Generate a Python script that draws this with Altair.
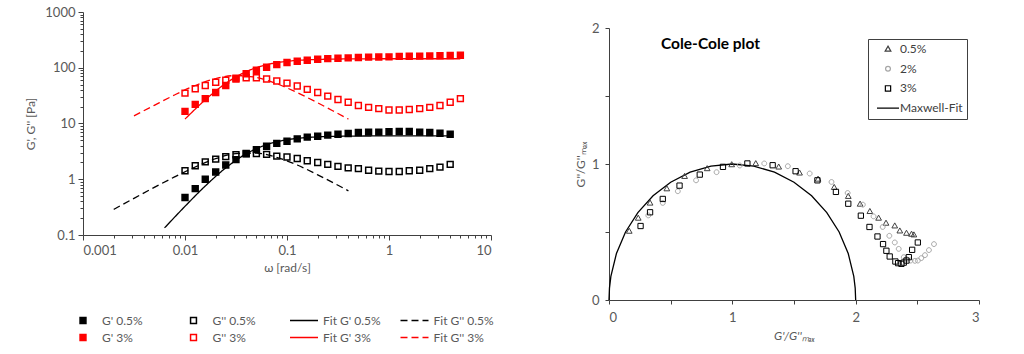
import altair as alt
import pandas as pd

# ---------------- left panel: frequency sweep ----------------
omega = [0.01, 0.0126, 0.0158, 0.02, 0.0251, 0.0316, 0.0398, 0.0501, 0.0631, 0.0794,
         0.1, 0.126, 0.158, 0.2, 0.251, 0.316, 0.398, 0.501, 0.631, 0.794,
         1.0, 1.26, 1.58, 2.0, 2.51, 3.16, 3.98, 5.01]
gp_05 = [0.47, 0.68, 1.0, 1.35, 1.8, 2.25, 2.85, 3.4, 3.9, 4.4, 4.8, 5.3, 5.7, 5.9, 6.2,
         6.4, 6.6, 6.9, 7.0, 7.0, 7.1, 7.2, 7.2, 7.0, 6.9, 6.7, 6.4]
gpp_05 = [1.42, 1.75, 2.05, 2.3, 2.55, 2.75, 2.9, 2.9, 2.8, 2.6, 2.5, 2.35, 2.15, 2.0, 1.85,
          1.7, 1.6, 1.55, 1.45, 1.4, 1.38, 1.38, 1.42, 1.45, 1.55, 1.65, 1.85]
gp_3 = [16.5, 22, 28, 36, 48, 63, 78, 90, 102, 114, 124, 131, 136, 142, 146, 148, 150, 153,
        155, 156, 157, 160, 161, 162, 163, 164, 166, 168]
gpp_3 = [35, 42, 48, 55, 60, 65, 66, 66, 63, 58, 53, 47, 41, 36, 31, 27, 24, 21, 19.5, 18.5,
         17.5, 17.5, 17.8, 18.5, 19.5, 21, 24, 28]

fit_w_gp_05 = [0.0063, 0.01, 0.0158, 0.0251, 0.0398, 0.063, 0.1, 0.158, 0.251, 0.398, 0.63, 1.0, 1.58, 2.51, 4.0]
fit_v_gp_05 = [0.134, 0.327, 0.757, 1.60, 2.86, 4.17, 5.11, 5.61, 5.84, 5.93, 5.97, 5.99, 6.0, 6.0, 6.0]
fit_w_gpp_05 = [0.002, 0.00316, 0.005, 0.0079, 0.0126, 0.02, 0.0316, 0.05, 0.079, 0.126, 0.2, 0.316, 0.4]
fit_v_gpp_05 = [0.288, 0.455, 0.714, 1.10, 1.66, 2.34, 2.89, 2.95, 2.47, 1.80, 1.20, 0.78, 0.62]
fit_w_gp_3 = [0.01, 0.0158, 0.0251, 0.0398, 0.063, 0.1, 0.158, 0.251, 0.398, 0.63, 1.0, 1.58, 2.51, 5.0]
fit_v_gp_3 = [12.0, 26.6, 52.5, 85.2, 113.3, 130.5, 138.8, 142.5, 144, 144.6, 145, 145, 145, 145]
fit_w_gpp_3 = [0.00316, 0.005, 0.0079, 0.0126, 0.02, 0.0316, 0.05, 0.079, 0.126, 0.2, 0.316, 0.4]
fit_v_gpp_3 = [13.7, 21.2, 32.5, 48.0, 64.0, 72.4, 66.9, 51.9, 35.8, 23.5, 15.1, 12.0]

series = ["G' 0.5%", "G'' 0.5%", "Fit G' 0.5%", "Fit G'' 0.5%",
          "G' 3%", "G'' 3%", "Fit G' 3%", "Fit G'' 3%"]

# ---------------- right panel: Cole-Cole ----------------
tri_x = [0.164, 0.237, 0.333, 0.469, 0.613, 0.796, 0.995, 1.19, 1.376, 1.545, 1.695, 1.826, 1.94,
         2.036, 2.115, 2.186, 2.246, 2.317, 2.358, 2.412, 2.453, 2.472]
tri_y = [0.507, 0.603, 0.714, 0.819, 0.91, 0.967, 0.996, 1.004, 0.979, 0.935, 0.89, 0.829, 0.763,
         0.706, 0.652, 0.603, 0.566, 0.546, 0.509, 0.492, 0.485, 0.48]
cir_x = [0.319, 0.436, 0.558, 0.706, 0.872, 1.06, 1.259, 1.45, 1.627, 1.804, 1.935, 2.058, 2.145,
         2.219, 2.273, 2.317, 2.349, 2.39, 2.412, 2.445, 2.48, 2.504, 2.532, 2.562, 2.594, 2.635]
cir_y = [0.622, 0.714, 0.80, 0.88, 0.94, 0.989, 1.004, 0.984, 0.93, 0.868, 0.787, 0.701, 0.615,
         0.537, 0.472, 0.423, 0.376, 0.315, 0.30, 0.29, 0.288, 0.29, 0.308, 0.33, 0.367, 0.411]
sq_x = [0.256, 0.333, 0.436, 0.572, 0.736, 0.924, 1.122, 1.327, 1.513, 1.69, 1.84, 1.94, 2.042,
        2.112, 2.177, 2.222, 2.249, 2.276, 2.322, 2.344, 2.371, 2.39, 2.412, 2.431, 2.458, 2.504]
sq_y = [0.544, 0.645, 0.743, 0.841, 0.922, 0.979, 1.004, 0.991, 0.947, 0.88, 0.795, 0.708, 0.62,
        0.537, 0.467, 0.411, 0.362, 0.32, 0.283, 0.271, 0.266, 0.275, 0.29, 0.315, 0.369, 0.423]
maxwell_x = [0.0, 0.0038, 0.0152, 0.0603, 0.134, 0.234, 0.3572, 0.5, 0.658, 0.8264, 1.0,
             1.1736, 1.342, 1.5, 1.6428, 1.766, 1.866, 1.9397, 1.9848, 1.9962, 2.0]
maxwell_y = [0.0, 0.0872, 0.1736, 0.342, 0.5, 0.6428, 0.766, 0.866, 0.9397, 0.9848, 1.0,
             0.9848, 0.9397, 0.866, 0.766, 0.6428, 0.5, 0.342, 0.1736, 0.0872, 0.0]
cc_labels = ["0.5%", "2%", "3%", "Maxwell-Fit"]

# ---------------- styling ----------------
FONT = "Lato"
GRAY = "#595959"
AX = "#404040"
SQ = "M-0.21,-0.21H0.21V0.21H-0.21Z"
LN = "M-1,0H1"

# ---------------- build tables ----------------
rows = []
for name, vals in [(series[0], gp_05), (series[1], gpp_05), (series[4], gp_3), (series[5], gpp_3)]:
    for w, v in zip(omega, vals):
        rows.append({"w": w, "v": v, "s": name})
df_pts = pd.DataFrame(rows)

rows = []
for name, ws, vs in [(series[2], fit_w_gp_05, fit_v_gp_05), (series[3], fit_w_gpp_05, fit_v_gpp_05),
                     (series[6], fit_w_gp_3, fit_v_gp_3), (series[7], fit_w_gpp_3, fit_v_gpp_3)]:
    for w, v in zip(ws, vs):
        rows.append({"w": w, "v": v, "s": name})
df_fit = pd.DataFrame(rows)

rows = []
for name, xs, ys in [("0.5%", tri_x, tri_y), ("2%", cir_x, cir_y), ("3%", sq_x, sq_y)]:
    for a, b in zip(xs, ys):
        rows.append({"gx": a, "gy": b, "lab": name})
df_cc = pd.DataFrame(rows)
df_mx = pd.DataFrame({"gx": maxwell_x, "gy": maxwell_y, "lab": "Maxwell-Fit",
                      "o": list(range(len(maxwell_x)))})

# ---------------- left chart ----------------
dec = "abs(log(datum.value)/LN10 - round(log(datum.value)/LN10)) < 0.001"
xticks = [m * 10.0 ** e for e in range(-3, 1) for m in range(1, 10)] + [10]
yticks = [m * 10.0 ** e for e in range(-1, 3) for m in range(1, 10)] + [1000]

leg_left = alt.Legend(title=None, orient="none", legendX=-15, legendY=302, columns=4,
                      direction="horizontal", gridAlign="all", columnPadding=15.5, rowPadding=4,
                      clipHeight=13, symbolSize=784, symbolStrokeWidth=1.5, labelOffset=4, padding=0,
                      labelFont=FONT, labelFontSize=12, labelColor=GRAY)

xl = alt.X("w:Q", scale=alt.Scale(type="log", domain=[0.001, 10], nice=False),
           axis=alt.Axis(values=xticks, labelExpr=f"({dec}) ? format(datum.value, '~g') : ''",
                         tickSize={"condition": {"test": dec, "value": 5}, "value": 3},
                         labelOverlap=False, labelPadding=4, titlePadding=5, title="ω [rad/s]"))
yl = alt.Y("v:Q", scale=alt.Scale(type="log", domain=[0.1, 1000], nice=False),
           axis=alt.Axis(values=yticks, labelExpr=f"({dec}) ? format(datum.value, '~g') : ''",
                         tickSize={"condition": {"test": dec, "value": 5}, "value": 3},
                         labelOverlap=False, labelPadding=3, titlePadding=7, title="G', G'' [Pa]"))

fill_enc = alt.Fill("s:N", scale=alt.Scale(domain=series, range=["black", "transparent", "transparent", "transparent", "#ff0000", "transparent", "transparent", "transparent"]), legend=leg_left)
stroke_enc = alt.Stroke("s:N", scale=alt.Scale(domain=series, range=["black"] * 4 + ["#ff0000"] * 4), legend=leg_left)
shape_enc = alt.Shape("s:N", scale=alt.Scale(domain=series, range=[SQ, SQ, LN, LN, SQ, SQ, LN, LN]), legend=leg_left)
dash_enc = alt.StrokeDash("s:N", scale=alt.Scale(domain=series, range=[[1, 0], [1, 0], [1, 0], [7, 4], [1, 0], [1, 0], [1, 0], [7, 4]]), legend=leg_left)

lines_left = alt.Chart(df_fit).mark_line(strokeWidth=1.3, interpolate="monotone").encode(
    x=xl, y=yl, stroke=stroke_enc, strokeDash=dash_enc)
pts_left = alt.Chart(df_pts).mark_point(filled=True, size=784, strokeWidth=1.5, opacity=1).encode(
    x=xl, y=yl, fill=fill_enc, stroke=stroke_enc, shape=shape_enc, strokeDash=dash_enc)
left = alt.layer(lines_left, pts_left).properties(width=408, height=223)

# ---------------- right chart ----------------
TRI = "M0,-0.26L0.26,0.2L-0.26,0.2Z"
CIR = "M-0.22,0A0.22,0.22 0 1,0 0.22,0A0.22,0.22 0 1,0 -0.22,0Z"
SQ2 = "M-0.24,-0.24H0.24V0.24H-0.24Z"

leg_right = alt.Legend(title=None, orient="none", legendX=259, legendY=27, padding=4,
                       strokeColor=AX, fillColor="white", symbolSize=484, symbolStrokeWidth=1.2,
                       clipHeight=12, rowPadding=7.7, labelOffset=0, symbolOffset=4,
                       labelFont=FONT, labelFontSize=12, labelColor=AX)
col_r = alt.Color("lab:N", scale=alt.Scale(domain=cc_labels, range=["#404040", "#a6a6a6", "#000000", "#000000"]), legend=leg_right)
shp_r = alt.Shape("lab:N", scale=alt.Scale(domain=cc_labels, range=[TRI, CIR, SQ2, LN]), legend=leg_right)

half = "datum.value % 1 == 0 ? format(datum.value, '~g') : ''"
xr = alt.X("gx:Q", scale=alt.Scale(domain=[0, 3], nice=False),
           axis=alt.Axis(values=[0, 0.5, 1, 1.5, 2, 2.5, 3], labelExpr=half, tickSize=4,
                         labelPadding=7, titlePadding=6, title="G'/G''ₘₐₓ", titleFontStyle="italic"))
yr = alt.Y("gy:Q", scale=alt.Scale(domain=[0, 2], nice=False),
           axis=alt.Axis(values=[0, 0.5, 1, 1.5, 2], labelExpr=half, tickSize=4,
                         labelPadding=6, titlePadding=4, title="G''/G''ₘₐₓ"))

line_r = alt.Chart(df_mx).mark_line(strokeWidth=1.3).encode(x=xr, y=yr, color=col_r, order="o:Q")
pts_r = alt.Chart(df_cc).mark_point(filled=False, size=484, strokeWidth=1, opacity=1).encode(
    x=xr, y=yr, color=col_r, shape=shp_r)
right_main = alt.layer(line_r, pts_r).properties(
    width=370, height=272,
    title=alt.TitleParams("Cole-Cole plot", anchor="start", frame="group", dx=52, dy=30, offset=0,
                          fontSize=15.5, fontWeight="bold", font=FONT, color="black"))

spacer = alt.Chart(pd.DataFrame({"z": [0]})).mark_point(opacity=0, size=1).encode(
    x=alt.value(0), y=alt.value(0)).properties(width=1, height=5)
right = alt.vconcat(spacer, right_main, spacing=5)

chart = alt.hconcat(left, right, spacing=80).resolve_scale(
    color="independent", shape="independent", fill="independent", stroke="independent",
    strokeDash="independent").resolve_legend(
    color="independent", shape="independent", fill="independent", stroke="independent",
    strokeDash="independent").properties(
    padding={"left": 24, "top": 6, "right": 5, "bottom": 0}).configure_view(stroke=None).configure_axis(
    grid=False, domainColor=AX, tickColor=AX, labelFont=FONT, titleFont=FONT, labelColor=GRAY,
    titleColor=GRAY, titleFontWeight="normal", labelFontSize=13, titleFontSize=12)

chart.save("out.html", embed_options={"renderer": "svg", "actions": False})
